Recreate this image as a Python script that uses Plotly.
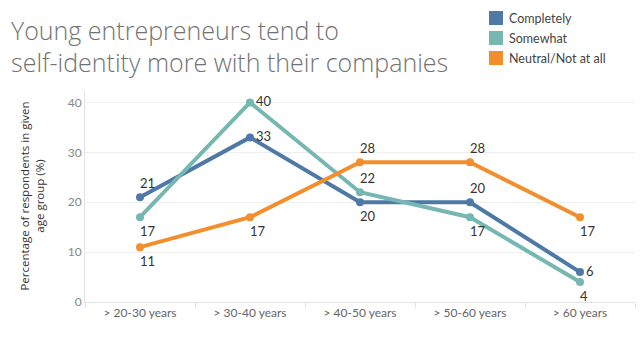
import plotly.graph_objects as go

categories = ["> 20-30 years", "> 30-40 years", "> 40-50 years", "> 50-60 years", "> 60 years"]
series_names = ["Completely", "Somewhat", "Neutral/Not at all"]
completely = [21, 33, 20, 20, 6]
somewhat = [17, 40, 22, 17, 4]
neutral = [11, 17, 28, 28, 17]
y_ticks = [0, 10, 20, 30, 40]
title_lines = ["Young entrepreneurs tend to", "self-identity more with their companies"]

values = [completely, somewhat, neutral]
colors = ["#4e79a7", "#76b7b2", "#f28e2b"]
# label placement per point: 'a' above, 'b' below, 'r' right
label_pos = [
    ["a", "r", "b", "a", "r"],
    ["b", "r", "a", "b", "b"],
    ["b", "b", "a", "a", "b"],
]

FONT = "Lato"
L, R, T, B = 85, 8, 90, 47
W, H = 643, 349
pw, ph = W - L - R, H - T - B


def px_x(p):
    return (p - L) / pw


def px_y(p):
    return (H - B - p) / ph


fig = go.Figure()
for name, vals, col in zip(series_names, values, colors):
    fig.add_trace(go.Scatter(
        x=categories, y=vals, name=name, mode="lines+markers",
        line=dict(color=col, width=4), marker=dict(color=col, size=8),
        showlegend=False, hoverinfo="skip"))

annotations = []
for vals, poss in zip(values, label_pos):
    for c, v, p in zip(categories, vals, poss):
        if p == "r":
            annotations.append(dict(x=c, y=v, text=str(v), showarrow=False, xanchor="left",
                                    yanchor="middle", xshift=4, yshift=1,
                                    font=dict(family=FONT, size=13, color="#333")))
        else:
            annotations.append(dict(x=c, y=v, text=str(v), showarrow=False, xanchor="left",
                                    yanchor="middle", xshift=-2, yshift=14 if p == "a" else -14,
                                    font=dict(family=FONT, size=13, color="#333")))

# title (two lines)
for i, line in enumerate(title_lines):
    annotations.append(dict(xref="paper", yref="paper", x=px_x(9), y=px_y(30 + 32 * i),
                            xanchor="left", yanchor="middle", showarrow=False, text=line,
                            font=dict(family="Open Sans", size=25, color="#727272", weight=300)))

# legend
shapes = []
for i, (name, col) in enumerate(zip(series_names, colors)):
    top = 11 + 20 * i
    shapes.append(dict(type="rect", xref="paper", yref="paper",
                       x0=px_x(489), x1=px_x(503),
                       y0=px_y(top + 14), y1=px_y(top),
                       fillcolor=col, line=dict(width=0)))
    annotations.append(dict(xref="paper", yref="paper", x=px_x(507),
                            y=px_y(top + 7.5), xanchor="left", yanchor="middle",
                            showarrow=False, text=name,
                            font=dict(family=FONT, size=12.5, color="#444")))

fig.update_layout(
    width=W, height=H, margin=dict(l=L, r=R, t=T, b=B),
    paper_bgcolor="white", plot_bgcolor="white",
    font=dict(family=FONT),
    annotations=annotations, shapes=shapes,
    xaxis=dict(type="category", range=[-0.5, 4.5], showgrid=False,
               showline=True, linecolor="#e3e3e3", linewidth=1,
               ticks="outside", tickson="boundaries", ticklen=5, tickcolor="#e3e3e3",
               tickfont=dict(family=FONT, size=12, color="#666")),
    yaxis=dict(range=[0, 42.5], tickvals=y_ticks, showgrid=True, gridcolor="#eeeeee",
               showline=True, linecolor="#e3e3e3", zeroline=False,
               tickfont=dict(family=FONT, size=12, color="#888"),
               title=dict(text="Percentage of respondents in given<br>age group (%)",
                          font=dict(family="Open Sans", size=11.5, color="#333"), standoff=20)),
)

fig.write_html("out.html")
